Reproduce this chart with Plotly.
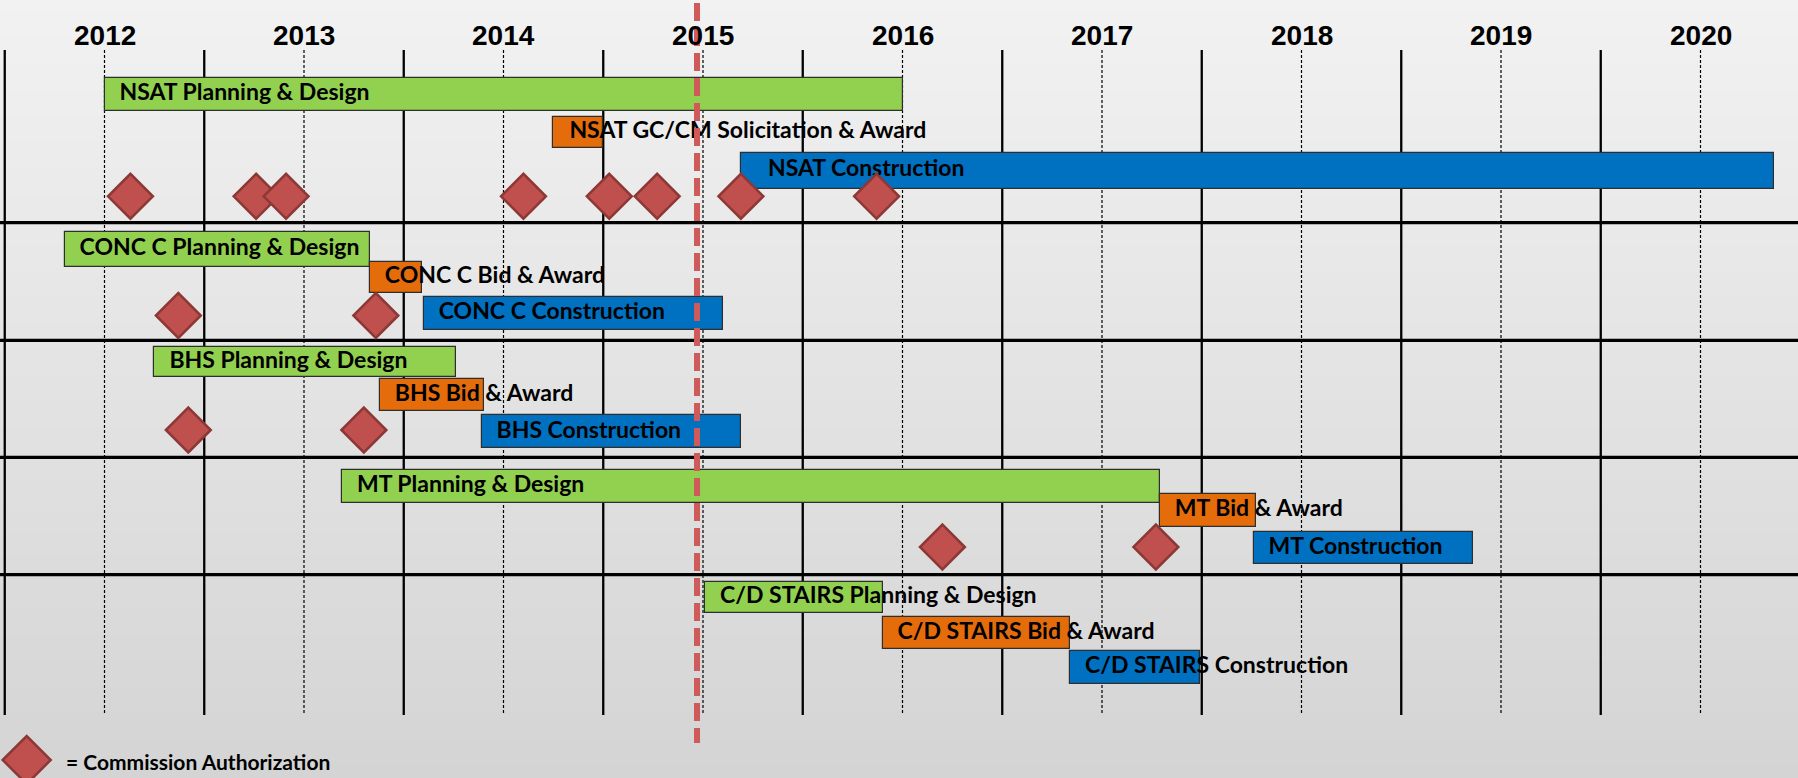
import plotly.graph_objects as go

# ---------------- DATA ----------------
years = [2012, 2013, 2014, 2015, 2016, 2017, 2018, 2019, 2020]

task_labels = [
    "NSAT Planning & Design", "NSAT GC/CM Solicitation & Award", "NSAT Construction",
    "CONC C Planning & Design", "CONC C Bid & Award", "CONC C Construction",
    "BHS Planning & Design", "BHS Bid & Award", "BHS Construction",
    "MT Planning & Design", "MT Bid & Award", "MT Construction",
    "C/D STAIRS Planning & Design", "C/D STAIRS Bid & Award", "C/D STAIRS Construction",
]
task_phase = ["design", "award", "construction"] * 5
task_start = [2012.00, 2014.25, 2015.19,
              2011.80, 2013.33, 2013.60,
              2012.25, 2013.38, 2013.89,
              2013.19, 2017.29, 2017.76,
              2015.01, 2015.90, 2016.84]
task_end = [2016.00, 2014.50, 2020.37,
            2013.33, 2013.59, 2015.10,
            2013.76, 2013.90, 2015.19,
            2017.29, 2017.77, 2018.86,
            2015.90, 2016.84, 2017.49]

projects = ["NSAT", "CONC C", "BHS", "MT", "C/D STAIRS"]
auth_project = ["NSAT"] * 8 + ["CONC C"] * 2 + ["BHS"] * 2 + ["MT"] * 2
auth_date = [2012.13, 2012.76, 2012.91, 2014.10, 2014.53, 2014.77, 2015.19, 2015.87,
             2012.37, 2013.36,
             2012.42, 2013.30,
             2016.20, 2017.27]

today = 2014.97
legend_text = "= Commission Authorization"

# ---------------- LAYOUT / STYLE ----------------
W, H = 1798, 778
xmin = 2012 - 104.5 / 199.5
xmax = xmin + W / 199.5
px_per_year = W / (xmax - xmin)

# vertical track positions (y axis: 0 at top, H at bottom)
task_track = [94.2, 132.2, 170.5,
              249.7, 277.7, 313.7,
              362.0, 395.2, 431.8,
              486.7, 510.5, 548.2,
              597.5, 632.8, 667.3]
task_thick = [33, 31, 36, 34.7, 31.3, 33.3, 30.6, 31.7, 33, 33.3, 32.4, 32.3, 31.6, 32.3, 33.3]
label_shift_px = [15, 16, 27, 15, 15, 15, 15, 15, 15, 15, 15, 15, 15, 15, 15]
auth_track = {"NSAT": 196.3, "CONC C": 315.5, "BHS": 430.0, "MT": 547.0}
row_dividers = [222.7, 340.3, 457.3, 574.7]
grid_top, grid_bottom = 50, 715

phase_color = {"design": "#92D050", "award": "#E46C0A", "construction": "#0070C0"}
diamond_fill = "#C0504D"
diamond_line = "#8C3836"
text_font = "Lato"

fig = go.Figure()

# bars
for i in range(len(task_labels)):
    fig.add_trace(go.Bar(
        orientation="h",
        y=[task_track[i]],
        x=[task_end[i] - task_start[i]],
        base=[task_start[i]],
        width=[task_thick[i]],
        marker=dict(color=phase_color[task_phase[i]], line=dict(color="#2E2E2E", width=1.2)),
        hoverinfo="skip",
        showlegend=False,
    ))

# labels
fig.add_trace(go.Scatter(
    x=[s + sh / px_per_year for s, sh in zip(task_start, label_shift_px)],
    y=task_track,
    mode="text",
    text=task_labels,
    textposition="middle right",
    textfont=dict(family=text_font, size=23, color="black", weight="bold"),
    cliponaxis=False,
    hoverinfo="skip",
    showlegend=False,
))

# commission authorizations
fig.add_trace(go.Scatter(
    x=auth_date,
    y=[auth_track[p] for p in auth_project],
    mode="markers",
    marker=dict(symbol="diamond", size=34.5, color=diamond_fill,
                line=dict(color=diamond_line, width=2.5)),
    cliponaxis=False,
    hoverinfo="skip",
    showlegend=False,
))

shapes = []
# background gradient
nb = 60
c0, c1 = 242, 212
for k in range(nb):
    c = round(c0 + (c1 - c0) * k / (nb - 1))
    shapes.append(dict(type="rect", xref="paper", yref="paper",
                       x0=0, x1=1, y0=1 - (k + 1) / nb, y1=1 - k / nb + 0.001,
                       fillcolor=f"rgb({c},{c},{c})", line=dict(width=0), layer="below"))
# dotted year lines
for y in years:
    shapes.append(dict(type="line", xref="x", yref="y", x0=y, x1=y, y0=grid_top, y1=grid_bottom,
                       line=dict(color="black", width=1.2, dash="3px,2px"), layer="below"))
# solid half-year separators
for y in [2011] + years:
    shapes.append(dict(type="line", xref="x", yref="y", x0=y + 0.5, x1=y + 0.5, y0=grid_top, y1=grid_bottom,
                       line=dict(color="black", width=2.3), layer="below"))
# row dividers
for d in row_dividers:
    shapes.append(dict(type="line", xref="paper", yref="y", x0=0, x1=1, y0=d, y1=d,
                       line=dict(color="black", width=3.3), layer="below"))
# today line
shapes.append(dict(type="line", xref="x", yref="y", x0=today, x1=today, y0=3, y1=743,
                   line=dict(color="#CF5A5A", width=6, dash="18px,7px"), layer="above"))
# legend diamond
cx, cy, hw, hh = 26.7 / W, (H - 760) / H, 24 / W, 24 / H
shapes.append(dict(type="path", xref="paper", yref="paper",
                   path=f"M {cx - hw} {cy} L {cx} {cy + hh} L {cx + hw} {cy} L {cx} {cy - hh} Z",
                   fillcolor=diamond_fill, line=dict(color=diamond_line, width=2.5), layer="above"))

annotations = []
for y in years:
    annotations.append(dict(x=y, y=35, xref="x", yref="y", text=str(y), showarrow=False,
                            xanchor="center", yanchor="middle",
                            font=dict(family="Liberation Sans", size=28, color="black", weight="bold")))
annotations.append(dict(x=64 / W, y=761, xref="paper", yref="y", text=legend_text, showarrow=False,
                        xanchor="left", yanchor="middle",
                        font=dict(family=text_font, size=21, color="black", weight="bold")))

fig.update_layout(
    width=W, height=H,
    margin=dict(l=0, r=0, t=0, b=0),
    paper_bgcolor="#E4E4E4",
    plot_bgcolor="rgba(0,0,0,0)",
    barmode="overlay",
    bargap=0,
    xaxis=dict(range=[xmin, xmax], visible=False, fixedrange=True),
    yaxis=dict(range=[H, 0], visible=False, fixedrange=True),
    shapes=shapes,
    annotations=annotations,
    showlegend=False,
)

fig.write_html("out.html", config={"displayModeBar": False},
               post_script="document.body.style.margin='0';document.body.style.overflow='hidden';")
